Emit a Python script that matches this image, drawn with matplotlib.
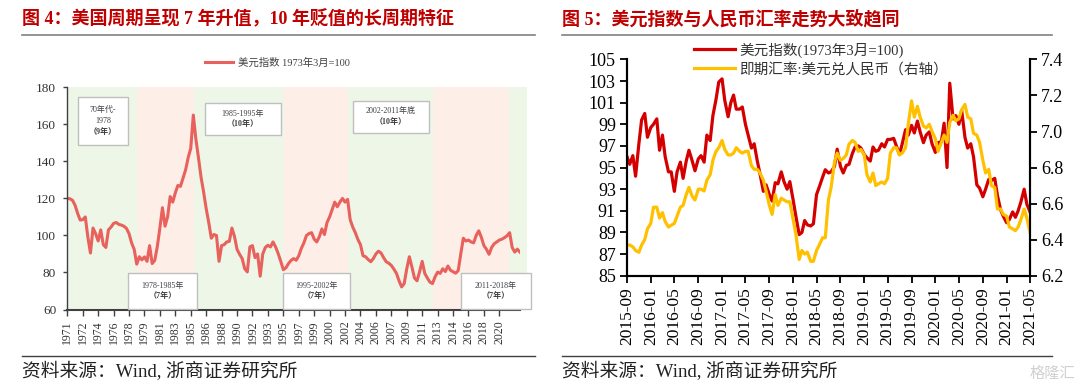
import numpy as np
import pandas as pd
import matplotlib
matplotlib.use('Agg')
import matplotlib.pyplot as plt
from matplotlib.patches import Rectangle
from matplotlib.lines import Line2D

# ---------------- data ----------------
# 图4: 美元指数 (category axis, 6 points per tick label)
long_labels = ['1971', '1972', '1974', '1976', '1978', '1979', '1981', '1983', '1985',
               '1986', '1988', '1990', '1992', '1993', '1995', '1997', '1999', '2000',
               '2002', '2004', '2006', '2007', '2009', '2011', '2013', '2014', '2016',
               '2018', '2020']
steps_per_label = 6
usd_long = [
    120, 119.8, 119, 116.4, 112, 108.3, 108.5, 110, 99, 90.5, 104, 101,
    97, 103, 95, 93.5, 103, 104.5, 106.5, 107, 106, 105.6, 105, 103.8,
    101, 96, 92.5, 84.5, 88.5, 86.8, 88.4, 86, 94.5, 84.8, 86.5, 94,
    104, 115, 105, 110, 121, 118, 123, 127, 126.5, 131, 135.4, 142,
    147, 165, 152, 142, 131.5, 123.5, 114.5, 107, 98.5, 100.5, 100, 86,
    94.5, 95, 96.5, 96.8, 104, 99.5, 92.5, 89.8, 87.5, 82, 80.3, 93.8,
    94.5, 88, 90, 78, 90, 93.5, 94.7, 93.8, 96.5, 93.8, 90.2, 86,
    81.5, 82.5, 84.8, 86.5, 87.5, 86.6, 89, 93, 96, 100, 101, 101.5,
    98, 96.5, 99.3, 103.5, 100.5, 107, 110, 114, 118, 115.5, 118, 120,
    118, 119.5, 108.5, 104.5, 101.5, 97.8, 95, 89, 88.5, 87, 85.8, 87.5,
    90, 91.5, 90.5, 88, 85.8, 85, 83.8, 81.8, 79.5, 75.5, 72.2, 74,
    82, 88.5, 83, 77, 75.5, 80.5, 86, 79.5, 77, 74.8, 74, 77.6,
    80.2, 79.5, 82, 80.5, 83.5, 81.2, 80.4, 79.6, 81, 90, 98.5, 97,
    97.5, 96.5, 96, 100, 102.5, 99, 94.5, 92.5, 89.8, 93.5, 95.5, 96.5,
    97.5, 98, 98.8, 99.8, 101.5, 93.5, 91, 92.6, 91,
]
# shaded periods, in tick-label units (green = 贬值, pink = 升值)
band_edges = [0, 4.54, 8.23, 14.06, 18.17, 23.68, 28.65, 29.77]
band_colors = ['#EEF6E8', '#FDEFE8']
period_notes = [
    (['70年代-', '1978', '（9年）'], (78, 97, 128, 145)),
    (['1985-1995年', '（10年）'], (205, 103, 281, 135)),
    (['1978-1985年', '（7年）'], (128, 273, 197, 309)),
    (['2002-2011年底', '（10年）'], (353, 101, 429, 133)),
    (['1995-2002年', '（7年）'], (283, 273, 350, 309)),
    (['2011-2018年', '（7年）'], (461, 273, 531, 309)),
]

# 图5: semi-monthly 2015-09 .. 2021-05
dates = pd.date_range('2015-09-01', '2021-05-01', freq='SMS')
dxy = [
    96.0, 95.3, 96.1, 94.2, 97.2, 99.4, 100.0, 97.8,
    98.7, 99.0, 99.5, 96.6, 98.0, 96.0, 94.6, 94.6, 92.8, 94.6, 95.5, 94.0,
    95.6, 96.6, 95.6, 94.7, 95.8, 96.1, 95.5, 98.0, 97.5, 99.8, 101.3, 102.9,
    103.2, 101.2, 99.7, 101.0, 101.7, 100.4, 100.4, 100.6, 99.0, 98.0, 96.8, 97.2,
    95.6, 94.4, 92.8, 93.4, 92.5, 91.9, 93.6, 93.5, 94.6, 93.7, 93.0, 93.7,
    92.0, 90.5, 88.8, 89.0, 90.1, 89.7, 89.6, 89.8, 92.5, 93.2, 94.1, 94.8,
    94.5, 94.6, 95.1, 96.7, 95.1, 94.5, 95.2, 95.3, 96.3, 96.9, 97.0, 96.8,
    96.2, 95.9, 95.6, 96.9, 96.5, 96.6, 97.2, 96.9, 97.6, 97.6, 97.7, 97.0,
    96.2, 97.2, 98.5, 98.0, 98.9, 98.2, 99.3, 98.3, 97.3, 98.0, 98.3, 97.2,
    96.4, 97.3, 97.4, 99.1, 95.0, 102.8, 99.5, 99.8, 99.0, 100.3, 97.8, 96.8,
    97.2, 96.0, 93.4, 93.1, 92.3, 93.0, 93.9, 93.8, 94.0, 92.4, 91.1, 90.5,
    89.9, 90.2, 90.9, 90.4, 91.0, 91.8, 93.0, 91.6, 90.9,
]
usdcny = [
    6.37, 6.37, 6.36, 6.34, 6.33, 6.37, 6.40, 6.46,
    6.49, 6.58, 6.58, 6.52, 6.55, 6.50, 6.47, 6.48, 6.49, 6.53, 6.58, 6.59,
    6.65, 6.69, 6.64, 6.62, 6.68, 6.68, 6.67, 6.73, 6.76, 6.84, 6.89, 6.91,
    6.95, 6.90, 6.87, 6.87, 6.88, 6.91, 6.89, 6.88, 6.89, 6.89, 6.81, 6.79,
    6.79, 6.77, 6.73, 6.67, 6.59, 6.54, 6.65, 6.59, 6.63, 6.62, 6.61, 6.61,
    6.51, 6.43, 6.29, 6.34, 6.32, 6.33, 6.28, 6.28, 6.34, 6.37, 6.41, 6.41,
    6.62, 6.69, 6.83, 6.88, 6.84, 6.85, 6.87, 6.93, 6.95, 6.94, 6.89, 6.90,
    6.87, 6.76, 6.72, 6.77, 6.70, 6.71, 6.72, 6.71, 6.74, 6.88, 6.91, 6.91,
    6.87, 6.88, 6.91, 7.04, 7.17, 7.08, 7.14, 7.08, 7.03, 7.02, 7.04, 7.00,
    6.96, 6.89, 6.94, 6.98, 6.94, 7.05, 7.09, 7.06, 7.07, 7.12, 7.15, 7.08,
    7.07, 6.99, 6.98, 6.94, 6.84, 6.77, 6.79, 6.70, 6.69, 6.57, 6.57, 6.54,
    6.53, 6.47, 6.46, 6.45, 6.47, 6.51, 6.57, 6.52, 6.44,
]
short_ticks = pd.date_range('2015-09-01', '2021-05-01', freq='4MS')

# ---------------- figure ----------------
W, H = 1080, 388
fig = plt.figure(figsize=(W / 100, H / 100), dpi=100)
SERIF = ['Liberation Serif', 'Noto Sans CJK SC']
TITLE_RED = '#C00000'


def fx(px):
    return px / W


def fy(py):
    return 1 - py / H


# headers / footers
for x0, x1, title in [(22, 535, '图 4：美国周期呈现 7 年升值，10 年贬值的长周期特征'),
                      (562, 1052, '图 5：美元指数与人民币汇率走势大致趋同')]:
    fig.text(fx(x0), fy(19), title, fontsize=13, weight='bold', color=TITLE_RED,
             family=SERIF, va='center', ha='left')
    fig.add_artist(Line2D([fx(x0), fx(x1)], [fy(35), fy(35)], color='#808080', lw=1.2))
    fig.add_artist(Line2D([fx(x0), fx(x1)], [fy(356), fy(356)], color='#404040', lw=1.0))
    fig.text(fx(x0), fy(372), '资料来源：Wind, 浙商证券研究所', fontsize=13.5,
             color='#222222', family=SERIF, va='center', ha='left')
fig.text(fx(1075), fy(373), '格隆汇', fontsize=11, color='#d0d0d0',
         family=['Noto Sans CJK SC'], va='center', ha='right')

# ---------------- left chart ----------------
xmax = (len(usd_long) - 1) / steps_per_label
ax1 = fig.add_axes([fx(67.3), fy(309.5), fx(15.43 * xmax), (309.5 - 87.3) / H])
xl = np.arange(len(usd_long)) / steps_per_label
for k in range(len(band_edges) - 1):
    ax1.axvspan(band_edges[k], band_edges[k + 1], color=band_colors[k % 2], lw=0,
                zorder=0, clip_on=False)
ax1.plot(xl, usd_long, color='#E8615C', lw=2.2, zorder=2, label='美元指数 1973年3月=100')
ax1.set_xlim(0, xmax)
ax1.set_ylim(60, 180)
ax1.set_yticks(range(60, 181, 20))
ax1.set_xticks(range(len(long_labels)))
ax1.set_xticklabels(long_labels, rotation=90)
for s in ['top', 'right']:
    ax1.spines[s].set_visible(False)
for s in ['left', 'bottom']:
    ax1.spines[s].set_color('#404040')
ax1.spines['left'].set_linewidth(1.0)
ax1.spines['bottom'].set_linewidth(1.5)
ax1.tick_params(axis='y', direction='out', length=3, width=1, colors='#404040',
                labelsize=9.5, pad=5)
ax1.tick_params(axis='x', direction='out', length=4, width=1, colors='#404040',
                labelsize=8.5, pad=4)
for lab in ax1.get_xticklabels() + ax1.get_yticklabels():
    lab.set_family(SERIF)
    lab.set_color('#333333')
ax1.legend(loc='center left', bbox_to_anchor=(fx(200), fy(63)), bbox_transform=fig.transFigure,
           frameon=False, borderpad=0, handlelength=2.7, handletextpad=0.4,
           prop={'family': SERIF, 'size': 7.5}, labelcolor='#404040')

for lines, (x0, y0, x1, y1) in period_notes:
    fig.add_artist(Rectangle((fx(x0), fy(y1)), fx(x1 - x0), (y1 - y0) / H,
                             facecolor='white', edgecolor='#BFBFBF', lw=1.0, zorder=5))
    n = len(lines)
    cy = (y0 + y1) / 2
    for j, line in enumerate(lines):
        py = cy + (j - (n - 1) / 2) * 10.6
        fig.text(fx((x0 + x1) / 2), fy(py), line, fontsize=5.8, family=SERIF,
                 color='#404040', weight='bold' if '（' in line else 'normal',
                 ha='center', va='center', zorder=6)

# ---------------- right chart ----------------
ax2 = fig.add_axes([fx(627), fy(275.7), fx(403), (275.7 - 59.4) / H])
axr = ax2.twinx()
l1, = ax2.plot(dates, dxy, color='#D40000', lw=2.3, label='美元指数(1973年3月=100)')
l2, = axr.plot(dates, usdcny, color='#FFC000', lw=2.3, label='即期汇率:美元兑人民币（右轴）')
ax2.set_xlim(dates[0], dates[-1])
ax2.set_ylim(85, 105)
axr.set_ylim(6.2, 7.4)
ax2.set_yticks(range(85, 106, 2))
axr.set_yticks(np.round(np.arange(6.2, 7.41, 0.2), 1))
axr.set_yticklabels([f'{v:.1f}' for v in np.arange(6.2, 7.41, 0.2)])
ax2.set_xticks(short_ticks)
ax2.set_xticklabels([d.strftime('%Y-%m') for d in short_ticks], rotation=90)
for a in (ax2, axr):
    a.spines['top'].set_visible(False)
    for s in ['left', 'right', 'bottom']:
        a.spines[s].set_linewidth(1.5)
        a.spines[s].set_color('black')
    a.tick_params(direction='out', length=5, width=1.3, labelsize=13, colors='black', pad=3)
    for lab in a.get_xticklabels() + a.get_yticklabels():
        lab.set_family(SERIF)
ax2.tick_params(axis='x', labelsize=12.5)
ax2.legend([l1, l2], [l1.get_label(), l2.get_label()], loc='upper left',
           bbox_to_anchor=(fx(687), fy(35)), bbox_transform=fig.transFigure,
           frameon=False, borderpad=0, handlelength=2.8, handletextpad=0.3,
           labelspacing=0.35, prop={'family': SERIF, 'size': 10.5}, labelcolor='#333333')

fig.savefig('out.png', dpi=100)
